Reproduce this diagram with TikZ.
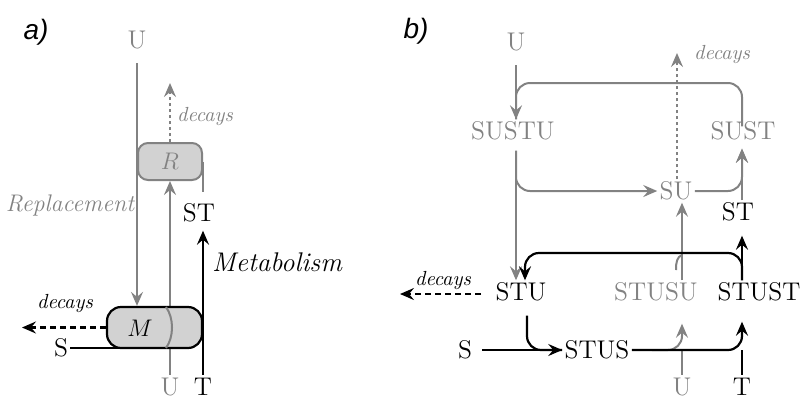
\documentclass[tikz,border=0pt]{standalone}
\usepackage{fontspec}
\newfontfamily\labfont{Liberation Sans}
\usetikzlibrary{arrows.meta}
\definecolor{lgray}{RGB}{130,130,130}
\definecolor{boxfill}{RGB}{210,210,210}
\begin{document}
\begin{tikzpicture}[x=0.5pt,y=-0.5pt,
  lbl/.style={font=\fontsize{12.8}{14}\selectfont, inner sep=1pt},
  glbl/.style={lbl, text=lgray},
  itl/.style={font=\fontsize{10.2}{12}\selectfont\itshape, inner sep=1pt},
  itlbig/.style={font=\fontsize{12}{14}\selectfont\itshape, inner sep=1pt},
  itlmet/.style={font=\fontsize{13.5}{15}\selectfont\itshape, inner sep=1pt},
  panel/.style={font=\fontsize{14}{16}\selectfont\labfont\itshape, inner sep=1pt},
  gln/.style={draw=lgray, line width=1pt},
  bln/.style={draw=black, line width=1.1pt},
  tip/.style={-{Stealth[length=7pt,width=6pt,inset=2.5pt]}},
  dotln/.style={dash pattern=on 1.5pt off 1.5pt},
  dashln/.style={dash pattern=on 3pt off 2pt},
  boxM/.style={draw=black, fill=boxfill, line width=1.1pt, rounded corners=7pt,
    minimum width=47.5pt, minimum height=20.5pt, inner sep=0pt},
  boxR/.style={draw=lgray, fill=boxfill, line width=1pt, rounded corners=5pt,
    minimum width=32pt, minimum height=18.5pt, inner sep=0pt, text=lgray,
    font=\fontsize{12.8}{14}\selectfont},
]
\useasboundingbox (0,0) rectangle (800,398);

% ---------------- panel a ----------------
\node[panel] (la) at (36,32) {a)};
\node[glbl] (aU) at (137,40) {U};
\node[glbl] (aU2) at (170,387) {U};
\node[lbl] (aT) at (203,387) {T};
\node[lbl] (aST) at (199,213) {ST};
\node[lbl] (aS) at (61,348) {S};
\node[itl, text=lgray] (adec1) at (205,117) {decays};
\node[itl] (adec2) at (65,304) {decays};
\node[itlbig, text=lgray] (repl) at (70,205) {Replacement};
\node[itlmet] (metab) at (277,262) {Metabolism};
\coordinate (aRdec) at (170,83);
\coordinate (aMdec) at (22,327.5);

\node[boxR] (R) at (170,161.5) {$R$};
\draw[gln, tip, shorten <=0.5pt] (aU2.north) -- (aU2 |- R.south);
\node[boxM] (M) at (154.5,327.5) {};
\draw[gln] (166,307) .. controls (174,318) and (174,337) .. (166,348);
\node[lbl] (Mlab) at (140,328) {$M$};
\draw[gln, tip, shorten <=6pt] (aU.south) -- (aU |- M.north);
\draw[bln, tip, shorten <=0.5pt, shorten >=3pt] (aT.north) -- (aT |- aST.south);
\draw[gln, shorten <=4.75pt] (R.east |- aST.north) -- (R.east);
\draw[gln, dotln, tip] (R.north) -- (aRdec);
\draw[bln, dashln, tip] (M.west) -- (aMdec);
\draw[bln] (aS.east) -- (aS.east -| Mlab);

% ---------------- panel b ----------------
\node[panel] (lb) at (416,31) {b)};
\node[glbl] (bU) at (516,42) {U};
\node[glbl] (SUSTU) at (513,131) {SUSTU};
\node[glbl] (SUST) at (743,131) {SUST};
\node[glbl] (SU) at (676,191) {SU};
\node[lbl] (bST) at (738,212) {ST};
\node[lbl] (STU) at (521,292) {STU};
\node[glbl] (STUSU) at (656,292) {STUSU};
\node[lbl] (STUST) at (759,292) {STUST};
\node[lbl] (bS) at (465,350) {S};
\node[lbl] (STUS) at (597,350) {STUS};
\node[glbl] (bU2) at (682,387) {U};
\node[lbl] (bT) at (742,387) {T};
\node[itl, text=lgray] (bdec1) at (722,55) {decays};
\node[itl] (bdec2) at (443,281) {decays};
\coordinate (topY) at (0,83);
\coordinate (midY) at (0,253);
\coordinate (bSUdec) at (677,53);
\coordinate (bSTUdec) at (400,294);

% gray upper part
\draw[gln, tip, shorten <=6pt] (bU.south) -- (bU |- SUSTU.north);
\draw[gln, rounded corners=7pt, shorten <=-3.5pt] (bT |- SUST.north) -- (bT |- topY) -- (bU |- topY) -- (bU |- SUSTU.north);
\draw[gln, tip, shorten <=4pt] (bU |- SUSTU.south) -- (bU |- STU.north);
\draw[gln, tip, rounded corners=7pt, shorten <=4pt] (bU |- SUSTU.south) |- (SU.west);
\draw[gln, tip, rounded corners=7pt, shorten >=3pt] (SU.east) -| (bT |- SUST.south);
\draw[gln, tip, shorten >=3pt] (bT |- bST.north) -- (bT |- SUST.south);
\draw[gln, dotln, tip] (SU.north -| bSUdec) -- (bSUdec);
\draw[gln, tip] (bU2 |- STUSU.north) -- (bU2 |- SU.south);
\draw[gln] (682,255) .. controls (677,257) and (676,262) .. (676,270);
% gray lower part
\draw[gln, shorten <=0.5pt] (bU2.north) -- (bU2 |- STUS);
\draw[gln, tip, rounded corners=7pt, shorten >=10pt] ([xshift=10pt]STUS.east) -| (bU2 |- STUSU.south);
% black
\draw[bln, tip, shorten >=6pt] (bT |- STUST.north) -- (bT |- bST.south);
\draw[bln, tip, rounded corners=7pt] (bT |- STUST.north) -- (bT |- midY) -- ([xshift=2pt]STU.north |- midY) -- ([xshift=2pt]STU.north);
\draw[bln, dashln, tip, shorten <=6pt] (STU.west |- bSTUdec) -- (bSTUdec);
\draw[bln, tip, shorten <=4pt] (bS.east) -- (STUS.west);
\draw[bln, rounded corners=7pt, shorten <=6pt] ([xshift=3pt]STU.south) |- (STUS.west);
\draw[bln, tip, rounded corners=7pt, shorten >=9pt] (STUS.east) -| (bT |- STUST.south);
\draw[bln, shorten <=0.5pt] (bT.north) -- (bT |- STUS);
\end{tikzpicture}
\end{document}
